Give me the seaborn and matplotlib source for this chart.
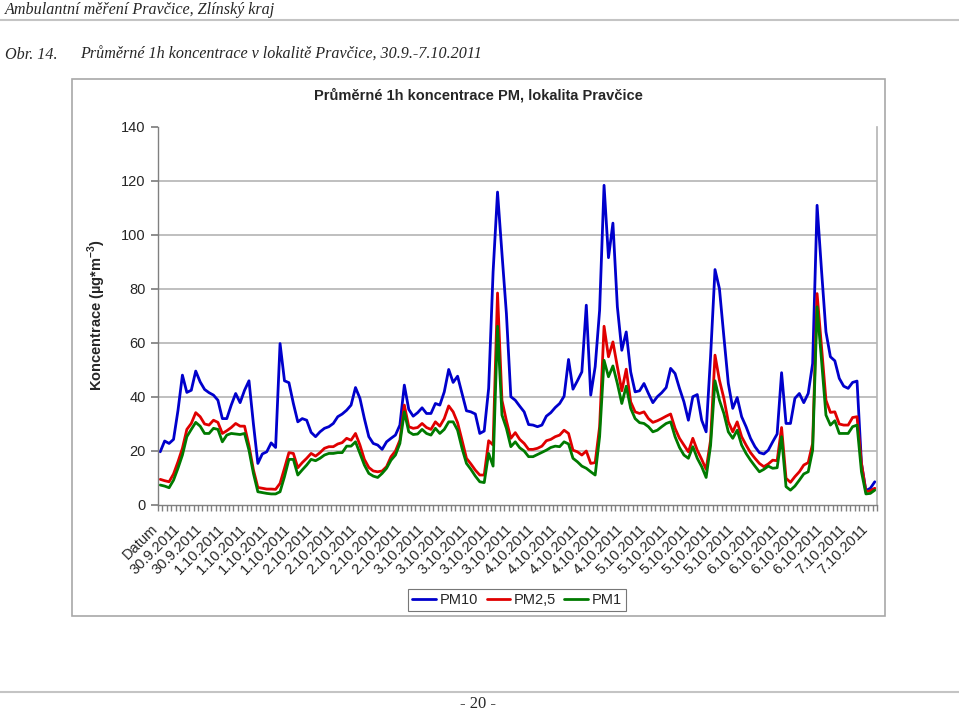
import numpy as np
import pandas as pd
import matplotlib
matplotlib.use("Agg")
import matplotlib.pyplot as plt
import seaborn as sns
from matplotlib.lines import Line2D
from matplotlib.patches import Rectangle

# ---------------- data (hourly averages) ----------------
pm10 = [19.7, 23.7, 22.8, 24.3, 35, 48.1, 41.7, 42.5, 49.6, 45.6,
        42.8, 41.6, 40.7, 38.8, 32, 32, 37, 41.3, 37.9, 42.5,
        46, 30, 15.4, 18.9, 19.7, 23, 21.3, 59.8, 46, 45.3,
        37.6, 30.8, 32, 31.4, 26.9, 25.3, 27.1, 28.4, 29, 30.2,
        32.7, 33.7, 35.1, 37, 43.5, 39.5, 32, 25.3, 22.8, 22.2,
        20.6, 23.4, 24.7, 25.9, 29.6, 44.4, 35.4, 32.9, 34.2, 36,
        33.9, 33.9, 37.6, 37, 41.9, 50.2, 45.4, 47.7, 41.3, 34.9,
        34.5, 33.7, 26.5, 27.4, 43.2, 86.3, 115.9, 93.1, 70.9, 40.1,
        38.8, 36.6, 34.5, 29.8, 29.6, 29, 29.6, 32.9, 34.2, 36.1,
        37.6, 40.3, 53.9, 42.9, 46, 49.3, 74, 40.7, 51.2, 72.1,
        118.4, 91.6, 104.4, 73.4, 57.3, 64.1, 49.3, 41.9, 42.3, 45,
        41.3, 37.9, 40.1, 41.6, 43.5, 50.6, 48.7, 43.2, 38.2, 31.4,
        40.1, 40.9, 31.4, 27.1, 55, 87.2, 80.1, 62.3, 45, 35.8,
        39.8, 32.7, 29, 24.7, 21.6, 19.4, 18.9, 20.3, 23.4, 26.3,
        49, 30.2, 30.2, 39.5, 41.3, 37.9, 41.3, 52.4, 111, 86.9,
        64.1, 54.9, 53.4, 46.9, 44, 43.2, 45.4, 45.9, 15.4, 5.3,
        6.2, 8.6]

pm25 = [9.5, 9, 8.6, 11.5, 16, 21, 28, 30.2, 34.2, 32.7,
        30, 29.6, 31.4, 30.6, 26.5, 27.5, 28.7, 30.2, 29.2, 29.2,
        22, 13, 6.5, 6.2, 5.9, 5.9, 5.8, 8, 13.6, 19.4,
        19.1, 13.8, 15.7, 17.3, 19.1, 18.1, 19.4, 21, 21.6, 21.6,
        22.6, 23.1, 24.7, 24, 26.5, 22.2, 16.9, 13.9, 12.6, 12.3,
        12.6, 14.2, 17.9, 20, 24, 37, 29, 28.4, 28.7, 30.2,
        28.7, 28, 30.8, 29.2, 32, 36.7, 34.5, 30.5, 24, 17.3,
        15.2, 12.9, 11.1, 11.1, 23.8, 22.2, 78.5, 38.8, 31.2, 24.7,
        26.8, 24.3, 22.8, 20.6, 20.6, 21, 21.8, 23.8, 24.3, 25.3,
        25.9, 27.7, 26.5, 20.3, 19.7, 18.5, 20, 15.4, 15.7, 29,
        66.2, 54.9, 60.4, 51.2, 42.3, 50.3, 38.2, 34.5, 33.9, 34.5,
        32, 30.6, 31.2, 32, 32.9, 33.7, 28.4, 24.7, 22.2, 19.7,
        24.7, 20.3, 16.9, 13.2, 24, 55.5, 46.2, 39.5, 30.8, 27.1,
        30.8, 25.3, 22.2, 19.4, 17.3, 15.4, 14.2, 15.2, 16.6, 16.4,
        28.7, 9.9, 8.4, 10.5, 12.3, 14.8, 15.7, 22.8, 78.3, 58.6,
        38.8, 34.3, 34.5, 30, 29.6, 29.6, 32.4, 32.7, 15.4, 4.9,
        5.3, 6.2]

pm1 = [7.4, 7, 6.4, 9.2, 13.6, 18.5, 25.3, 28, 30.6, 29.2,
       26.5, 26.5, 28.4, 28, 23.4, 25.9, 26.5, 26.3, 26.1, 26.5,
       20.3, 11.7, 4.9, 4.6, 4.3, 4.1, 4.1, 4.9, 10.5, 16.9,
       16.9, 11.1, 13, 14.8, 16.9, 16.4, 17.3, 18.5, 19.1, 19.1,
       19.4, 19.4, 21.8, 21.8, 23.4, 19.1, 14.8, 11.7, 10.7, 10.2,
       11.7, 13.6, 16.6, 18.5, 22.8, 34.5, 27.1, 26.1, 26.3, 28,
       26.5, 25.9, 28.4, 26.5, 28, 30.8, 30.8, 27.7, 21, 15.4,
       13.2, 10.7, 8.6, 8.3, 19.1, 14.4, 66.2, 33.3, 28.4, 21.6,
       23.4, 21.2, 20, 17.9, 17.9, 18.7, 19.5, 20.3, 21.3, 21.8,
       21.6, 23.4, 22.6, 17.3, 16, 14.4, 13.6, 12.3, 11.1, 25.3,
       53.6, 47.5, 51.5, 45, 37.6, 44, 35.8, 32, 30.5, 30.2,
       29, 27.1, 27.7, 29, 30.2, 30.8, 25.3, 21.3, 18.5, 17.3,
       21.6, 17.3, 14.2, 10.2, 22, 46, 38.8, 33.9, 27.1, 24.7,
       27.7, 22.2, 19.1, 16.6, 14.4, 12.3, 13.2, 14.4, 13.6, 13.8,
       25.3, 6.8, 5.5, 7, 9.2, 11.5, 12.3, 20.3, 73.4, 53.6,
       33.3, 29.6, 31.2, 26.5, 26.5, 26.5, 29, 29.6, 12.3, 4.1,
       4.3, 5.5]

series_names = ["PM10", "PM2,5", "PM1"]
x_labels = ["Datum",
            "30.9.2011", "30.9.2011",
            "1.10.2011", "1.10.2011", "1.10.2011", "1.10.2011",
            "2.10.2011", "2.10.2011", "2.10.2011", "2.10.2011", "2.10.2011",
            "3.10.2011", "3.10.2011", "3.10.2011", "3.10.2011", "3.10.2011",
            "4.10.2011", "4.10.2011", "4.10.2011", "4.10.2011", "4.10.2011",
            "5.10.2011", "5.10.2011", "5.10.2011", "5.10.2011", "5.10.2011",
            "6.10.2011", "6.10.2011", "6.10.2011", "6.10.2011",
            "7.10.2011", "7.10.2011"]
y_ticks = [0, 20, 40, 60, 80, 100, 120, 140]

# ---------------- style ----------------
sns.set_theme(style="white")
plt.rcParams["font.family"] = ["Liberation Sans", "DejaVu Sans"]
plt.rcParams["mathtext.fontset"] = "custom"
plt.rcParams["mathtext.rm"] = "Liberation Sans"
plt.rcParams["mathtext.bf"] = "Liberation Sans:bold"

W, H = 959, 711
fig = plt.figure(figsize=(W / 100, H / 100), dpi=100)
fig.patch.set_facecolor("white")

def fx(px):
    return px / W

def fy(py):
    return 1 - py / H

ax = fig.add_axes([fx(158), fy(505), fx(877) - fx(158), fy(127) - fy(505)])

n = len(pm10)
df = pd.DataFrame({"idx": np.arange(n), "PM10": pm10, "PM2,5": pm25, "PM1": pm1})
long = df.melt(id_vars="idx", var_name="series", value_name="value")
colors = {"PM10": "#0000CC", "PM2,5": "#E00000", "PM1": "#007A00"}
sns.lineplot(data=long, x="idx", y="value", hue="series", hue_order=series_names,
             palette=colors, linewidth=2.0, ax=ax, legend=False)

ax.set_xlabel("")
ax.set_ylabel("")

ax.set_yticks(y_ticks)
ax.set_yticklabels([str(v) for v in y_ticks], fontsize=10.5)
ax.yaxis.grid(True, color="#b4b4b4", linewidth=1.2)
ax.get_ygridlines()[-1].set_visible(False)
ax.get_ygridlines()[0].set_visible(False)
ax.set_axisbelow(True)

ax.set_xticks(np.arange(0, 5 * len(x_labels), 5))
ax.set_xticklabels(x_labels, rotation=45, ha="right", va="bottom",
                   rotation_mode="anchor", fontsize=10.5)
ax.set_xticks(np.arange(-0.5, n, 1), minor=True)
ax.tick_params(axis="x", which="major", length=0, pad=19)
ax.tick_params(axis="x", which="minor", length=4, color="#808080", direction="out", bottom=True)
ax.tick_params(axis="y", which="major", length=5, color="#808080", direction="out", left=True, pad=4)
ax.set_xlim(-0.5, n - 0.5)
ax.set_ylim(0, 140)

for side in ["left", "bottom"]:
    ax.spines[side].set_color("#808080")
    ax.spines[side].set_linewidth(1.0)
ax.spines["right"].set_color("#b4b4b4")
ax.spines["right"].set_linewidth(1.2)
ax.spines["top"].set_visible(False)

# legend
handles = [Line2D([], [], color=colors[s], lw=2) for s in series_names]
leg = fig.legend(handles, series_names, loc="center", bbox_to_anchor=(fx(517), fy(600)),
                 ncol=3, frameon=True, fancybox=False, edgecolor="#555555",
                 fontsize=10.5, handlelength=1.6, handletextpad=0.25,
                 columnspacing=0.6, borderpad=0.3, borderaxespad=0.0)
leg.get_frame().set_linewidth(0.8)

# chart frame
fig.add_artist(Rectangle((fx(72), fy(616)), fx(885) - fx(72), fy(79) - fy(616),
                         transform=fig.transFigure, fill=False,
                         edgecolor="#a8a8a8", linewidth=1.2))

# chart title and axis label
fig.text(fx(478), fy(95), "Průměrné 1h koncentrace PM, lokalita Pravčice",
         ha="center", va="center", fontsize=10.5, fontweight="bold")
fig.text(fx(97), fy(315), r"Koncentrace (µg*m$^{\mathbf{-3}}$)", rotation=90,
         ha="center", va="center", fontsize=10.5, fontweight="bold")

# page header / footer
serif = ["Liberation Serif", "DejaVu Serif"]
fig.text(fx(5), fy(10), "Ambulantní měření Pravčice, Zlínský kraj", family=serif,
         style="italic", fontsize=11.6, ha="left", va="center")
fig.add_artist(Line2D([0, 1], [fy(20), fy(20)], transform=fig.transFigure,
                      color="#c4c4c4", linewidth=1.5))
fig.text(fx(5), fy(55), "Obr. 14.", family=serif, style="italic", fontsize=11.6,
         ha="left", va="center")
fig.text(fx(80), fy(55), "Průměrné 1h koncentrace v lokalitě Pravčice, 30.9.-7.10.2011",
         family=serif, style="italic", fontsize=11.6, ha="left", va="center")
fig.add_artist(Line2D([0, 1], [fy(692), fy(692)], transform=fig.transFigure,
                      color="#c4c4c4", linewidth=1.5))
fig.text(fx(478), fy(704), "- 20 -", family=serif, fontsize=12, ha="center", va="center")

fig.savefig("out.png", dpi=100)
